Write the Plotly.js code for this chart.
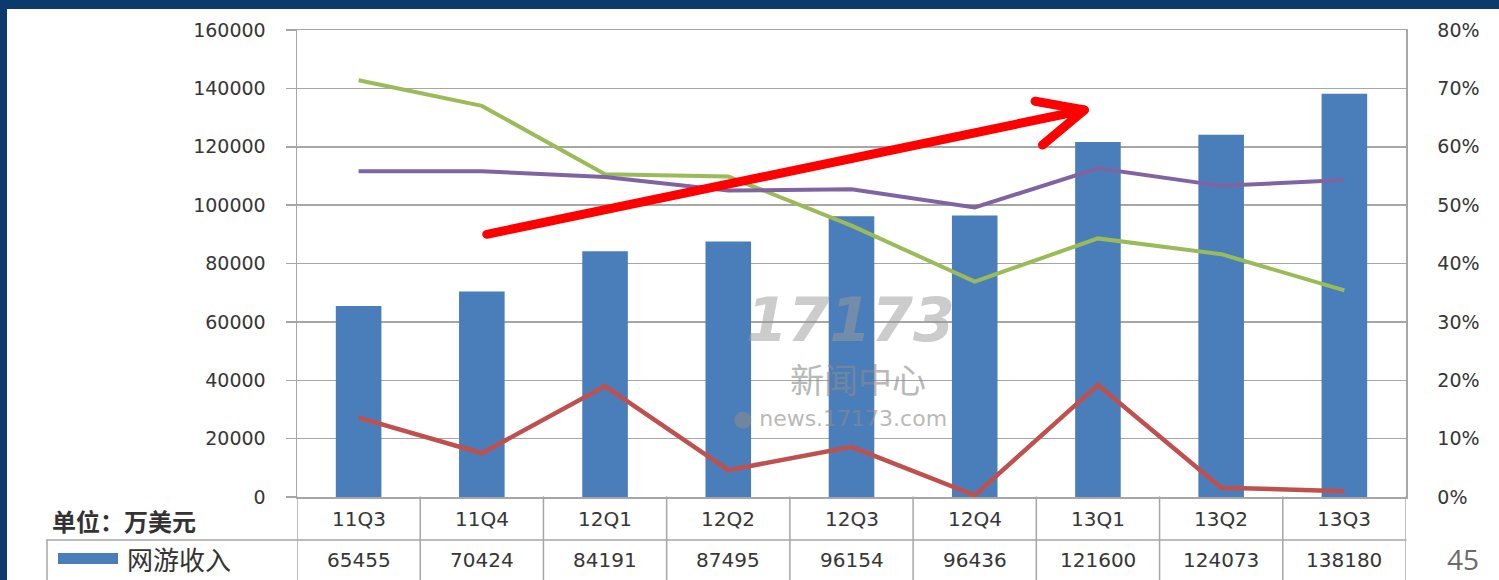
<!DOCTYPE html>
<html>
<head>
<meta charset="utf-8">
<script src="https://cdn.plot.ly/plotly-3.0.1.min.js"></script>
<style>
html,body{margin:0;padding:0;background:#fff;}
#chart{width:1499px;height:580px;}
.shapelayer path{stroke-linecap:round;stroke-linejoin:round;}
</style>
</head>
<body>
<div id="chart"></div>
<script>
// ---- data ----
const categories = ['11Q3','11Q4','12Q1','12Q2','12Q3','12Q4','13Q1','13Q2','13Q3'];
const revenue = [65455, 70424, 84191, 87495, 96154, 96436, 121600, 124073, 138180];
const greenPct = [71.4, 67.0, 55.3, 54.9, 46.5, 36.9, 44.3, 41.6, 35.4];
const purplePct = [55.8, 55.8, 54.8, 52.5, 52.7, 49.6, 56.3, 53.3, 54.3];
const redPct = [13.6, 7.5, 19.0, 4.6, 8.6, 0.3, 19.2, 1.6, 1.0];
const leftTicks = [0, 20000, 40000, 60000, 80000, 100000, 120000, 140000, 160000];
const rightTicks = [0, 10, 20, 30, 40, 50, 60, 70, 80];
const unitLabel = '单位：万美元';
const seriesLabel = '网游收入';

// ---- geometry helpers (pixel -> paper) ----
const W = 1499, H = 580;
const L = 297, R = 93, T = 30, B = 83;
const PW = W - L - R, PH = H - T - B;
const px = v => (v - L) / PW;
const py = v => (H - B - v) / PH;

const idx = categories.map((c, i) => i);
const fontTick = {family: 'DejaVu Sans, Verdana, sans-serif', size: 19, color: '#363636'};
const gridCol = '#a6a6a6';

const traces = [
  {type: 'bar', x: idx, y: revenue, name: seriesLabel, width: 0.37,
   marker: {color: '#4a7ebb'}, yaxis: 'y', showlegend: false},
  {type: 'scatter', mode: 'lines', x: idx, y: greenPct, yaxis: 'y2',
   line: {color: '#9bbb59', width: 4}, showlegend: false, name: 'g'},
  {type: 'scatter', mode: 'lines', x: idx, y: purplePct, yaxis: 'y2',
   line: {color: '#8064a2', width: 4}, showlegend: false, name: 'p'},
  {type: 'scatter', mode: 'lines', x: idx, y: redPct, yaxis: 'y2',
   line: {color: '#c0504d', width: 4.5}, showlegend: false, name: 'r'}
];

const shapes = [];
const navy = '#0b3a6c';
// frame
shapes.push({type: 'rect', xref: 'paper', yref: 'paper', x0: px(0), x1: px(W), y0: py(9), y1: py(0),
  fillcolor: navy, line: {width: 0}, layer: 'above'});
shapes.push({type: 'rect', xref: 'paper', yref: 'paper', x0: px(0), x1: px(7), y0: py(H), y1: py(0),
  fillcolor: navy, line: {width: 0}, layer: 'above'});
// table lines
const tableLine = {color: '#a6a6a6', width: 1.5};
for (let k = 0; k <= categories.length; k++) {
  shapes.push({type: 'line', xref: 'x', yref: 'paper', x0: k - 0.5, x1: k - 0.5, y0: 0, y1: py(H + 2), line: tableLine});
}
shapes.push({type: 'line', xref: 'paper', yref: 'paper', x0: px(47), x1: 1, y0: py(540), y1: py(540), line: tableLine});
shapes.push({type: 'line', xref: 'paper', yref: 'paper', x0: px(47), x1: px(47), y0: py(540), y1: py(H + 2), line: tableLine});
// legend swatch
shapes.push({type: 'rect', xref: 'paper', yref: 'paper', x0: px(58), x1: px(118), y0: py(564), y1: py(553),
  fillcolor: '#4a7ebb', line: {width: 0}});
// red arrow (in axis units: category index / right-axis percent)
const arrowRed = {color: '#ff0000', width: 9};
shapes.push({type: 'line', xref: 'x', yref: 'y2', x0: 1.04, y0: 45.0, x1: 5.89, y1: 66.3, line: arrowRed, layer: 'above'});
shapes.push({type: 'path', xref: 'x', yref: 'y2', path: 'M 5.49 67.8 L 5.89 66.3 L 5.55 60.3', line: arrowRed, layer: 'above'});

const annotations = [];
const cellFont = {family: 'DejaVu Sans, Verdana, sans-serif', size: 20, color: '#363636'};
categories.forEach((c, i) => {
  annotations.push({xref: 'x', yref: 'paper', x: i, y: py(519), xanchor: 'center', yanchor: 'middle',
    text: c, showarrow: false, font: cellFont});
  annotations.push({xref: 'x', yref: 'paper', x: i, y: py(560), xanchor: 'center', yanchor: 'middle',
    text: String(revenue[i]), showarrow: false, font: cellFont});
});
annotations.push({xref: 'paper', yref: 'paper', x: px(50), y: py(520), xanchor: 'left', yanchor: 'middle',
  text: '<b>' + unitLabel + '</b>', showarrow: false, font: {family: 'Noto Sans CJK SC', size: 24, color: '#333'}});
annotations.push({xref: 'paper', yref: 'paper', x: px(125), y: py(558), xanchor: 'left', yanchor: 'middle',
  text: seriesLabel, showarrow: false, font: {family: 'Noto Sans CJK SC', size: 26, color: '#333'}});
// watermark
annotations.push({xref: 'paper', yref: 'paper', x: px(850), y: py(320), xanchor: 'center', yanchor: 'middle',
  text: '<b><i>17173</i></b>', showarrow: false, font: {family: 'DejaVu Sans', size: 60, color: '#9a9a9a'}, opacity: 0.5});
annotations.push({xref: 'paper', yref: 'paper', x: px(858), y: py(378), xanchor: 'center', yanchor: 'middle',
  text: '新闻中心', showarrow: false, font: {family: 'Noto Sans CJK SC', size: 34, color: '#8c8c8c'}, opacity: 0.6});
annotations.push({xref: 'paper', yref: 'paper', x: px(840), y: py(418), xanchor: 'center', yanchor: 'middle',
  text: '● news.17173.com', showarrow: false, font: {family: 'DejaVu Sans', size: 22, color: '#8c8c8c'}, opacity: 0.6});
// page number
annotations.push({xref: 'paper', yref: 'paper', x: px(1463), y: py(559), xanchor: 'center', yanchor: 'middle',
  text: '45', showarrow: false, font: {family: 'Open Sans, sans-serif', size: 28, color: '#6b6b6b'}});

const layout = {
  width: W, height: H,
  margin: {l: L, r: R, t: T, b: B, pad: 0},
  paper_bgcolor: '#ffffff', plot_bgcolor: '#ffffff',
  showlegend: false,
  xaxis: {range: [-0.5, categories.length - 0.5], showticklabels: false, showgrid: false, zeroline: false,
    showline: true, linecolor: gridCol, linewidth: 1.5, mirror: true, ticks: '', fixedrange: true},
  yaxis: {range: [0, 160000], tickvals: leftTicks, ticktext: leftTicks.map(String),
    showgrid: true, gridcolor: gridCol, gridwidth: 1.5, zeroline: false,
    showline: true, linecolor: gridCol, linewidth: 1.5, ticks: 'outside', ticklen: 10, tickcolor: gridCol, tickwidth: 1.5,
    ticklabelstandoff: 16, tickfont: fontTick},
  yaxis2: {range: [0, 80], overlaying: 'y', side: 'right', tickvals: rightTicks, ticktext: rightTicks.map(v => v + '%'),
    showgrid: false, zeroline: false, showline: true, linecolor: gridCol, linewidth: 1.5, ticks: '',
    ticklabelstandoff: 26, tickfont: fontTick},
  shapes: shapes,
  annotations: annotations
};

Plotly.newPlot('chart', traces, layout, {staticPlot: true, displayModeBar: false});
</script>
</body>
</html>
